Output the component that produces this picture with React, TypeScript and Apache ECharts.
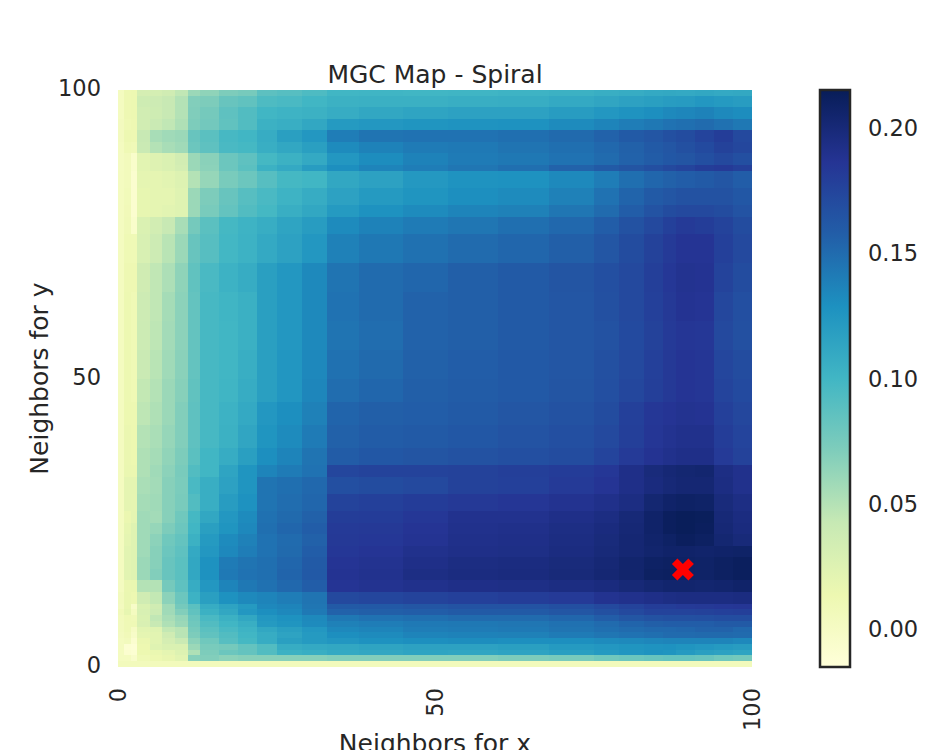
import React, { useEffect, useRef } from "react";
import * as echarts from "echarts";

const titleText = "MGC Map - Spiral";
const xName = "Neighbors for x";
const yName = "Neighbors for y";
const axisTicks = [0, 50, 100];
const colorbarTicks = [0, 0.05, 0.1, 0.15, 0.2];
const colorMin = -0.015;
const colorMax = 0.215;
const palette = ["#ffffd9", "#edf8b1", "#c7e9b4", "#7fcdbb", "#41b6c4", "#1d91c0", "#225ea8", "#253494", "#081d58"];
const bestScale = [89.1, 16.9];

// Cell bands of the map in "neighbors" units.
const xEdges = [0, 1, 2, 3, 5, 7, 9, 11, 13, 16, 19, 22, 25, 29, 33, 38, 45, 52, 60, 68, 75, 79, 83, 86, 88, 91, 94, 97, 100];
const yEdges = [100, 99, 97, 95, 93, 91, 89, 87, 86, 83, 80, 78, 75, 70, 65, 60, 55, 50, 46, 42, 38, 35, 33, 30, 27, 25, 23, 21, 19, 17, 15, 13, 11, 10, 9, 8, 7, 6, 5, 4, 3, 2, 1, 0];

// MGC statistic x 1000, top row first.
const mgcRows = [
  [3,12,13,32,33,36,45,60,65,72,75,87,90,94,100,101,100,101,102,104,106,108,110,111,110,112,110,111],
  [3,12,13,37,38,42,50,70,72,82,85,94,96,100,104,105,105,106,107,110,113,116,118,120,121,124,122,120],
  [3,12,13,35,37,42,50,71,76,86,92,100,102,104,108,112,114,116,116,120,124,127,130,133,135,137,133,131],
  [4,11,12,35,40,45,52,72,77,85,92,104,106,112,122,124,126,127,128,132,136,140,143,146,148,150,147,143],
  [4,13,12,42,55,58,60,82,88,97,100,108,118,124,140,145,146,146,148,151,155,160,163,167,170,175,180,172],
  [3,11,9,40,50,55,58,80,86,96,98,106,112,118,132,137,141,142,145,148,152,156,160,163,167,171,177,173],
  [2,6,-5,22,25,28,34,60,67,80,86,98,104,110,124,131,137,141,143,146,150,155,159,162,164,168,172,168],
  [2,6,-5,22,25,28,33,60,66,80,88,104,110,120,130,136,140,144,148,155,160,164,168,172,175,180,182,178],
  [3,6,-8,20,20,22,26,50,62,74,80,90,98,100,112,116,123,127,128,133,140,148,153,156,158,160,163,158],
  [3,7,-8,18,20,20,24,60,72,82,90,96,102,108,116,122,126,130,132,138,146,154,160,163,166,166,166,162],
  [3,8,-8,18,20,22,24,60,74,84,92,98,106,112,122,128,132,136,138,144,150,158,165,170,172,172,170,165],
  [3,9,-5,28,34,42,55,76,88,98,102,107,114,120,132,137,141,144,148,152,158,166,172,178,182,180,176,170],
  [3,11,10,30,38,48,60,82,90,99,103,110,116,124,138,143,147,150,153,157,163,170,177,182,186,186,178,172],
  [3,12,12,36,45,53,65,85,96,103,108,118,124,133,145,150,153,157,160,164,168,172,179,184,188,187,176,170],
  [3,13,10,38,45,56,66,84,97,101,105,118,124,133,146,150,155,157,160,163,167,172,178,183,187,186,173,168],
  [3,13,10,39,46,57,66,84,97,100,105,118,124,133,145,149,155,157,160,163,166,171,177,182,185,184,172,167],
  [3,13,10,40,48,58,67,84,97,100,106,118,125,134,147,151,156,158,161,163,167,172,178,183,186,185,174,170],
  [3,13,11,44,50,60,68,85,97,101,108,118,125,135,149,153,157,159,161,164,168,173,179,183,186,185,175,171],
  [3,14,13,46,52,60,70,86,97,103,110,124,130,138,154,157,158,160,163,166,170,178,184,186,188,187,178,173],
  [3,15,14,50,54,62,70,86,97,104,113,126,132,141,156,159,160,162,165,168,172,179,185,188,190,190,180,175],
  [3,15,14,52,56,64,72,88,100,108,118,130,136,145,159,162,164,166,168,170,175,182,187,190,192,192,182,177],
  [3,16,15,52,58,66,74,92,100,114,126,136,141,146,174,176,176,177,179,181,184,192,198,201,203,204,194,190],
  [3,20,20,54,57,68,73,96,106,116,126,145,148,152,168,170,172,177,178,182,186,192,197,200,202,202,195,190],
  [3,20,19,56,58,68,74,92,106,120,128,145,149,153,176,178,181,183,185,188,191,195,203,207,209,208,198,194],
  [3,15,20,58,57,68,78,98,112,124,132,147,151,156,180,181,184,189,189,192,195,200,207,212,214,213,200,196],
  [3,18,24,58,62,72,80,100,118,126,134,148,153,158,182,183,186,190,191,194,197,201,207,212,214,212,201,197],
  [3,20,24,58,66,78,84,104,122,132,138,146,150,156,183,184,187,191,192,195,198,202,206,209,212,210,203,199],
  [3,22,24,58,68,80,86,110,124,134,140,146,151,158,184,186,190,192,193,196,199,202,205,207,207,206,207,208],
  [3,22,24,60,68,82,88,112,128,141,145,148,153,160,186,188,192,195,196,198,201,205,209,210,209,208,210,212],
  [3,22,24,60,70,82,88,112,128,142,146,148,154,161,187,189,194,196,197,199,202,205,210,211,209,208,210,212],
  [3,15,16,50,50,76,86,108,124,136,143,147,152,158,186,188,190,192,193,195,197,200,203,205,205,204,205,207],
  [5,16,13,36,44,66,80,103,118,128,133,136,140,145,172,174,176,178,180,182,188,190,192,194,195,195,195,196],
  [4,16,-3,28,36,58,76,88,108,115,122,134,136,144,160,161,163,165,165,168,172,176,180,180,182,183,184,185],
  [8,18,3,30,38,58,70,85,104,112,124,130,134,142,155,157,158,160,160,163,167,172,176,176,176,177,178,179],
  [6,11,9,28,45,55,62,80,96,104,112,124,128,133,143,146,148,150,150,153,158,163,166,167,167,168,169,169],
  [5,10,10,29,42,52,60,78,92,100,106,122,126,132,138,140,142,143,144,147,150,154,157,158,158,158,160,160],
  [5,10,0,22,24,44,48,75,88,96,102,112,118,124,134,136,140,141,142,145,148,150,152,152,153,155,155,152],
  [4,8,-3,20,22,36,48,72,85,92,100,108,115,122,130,132,136,137,138,141,144,146,148,150,150,151,151,150],
  [3,5,-8,15,22,32,40,66,78,90,98,108,118,122,125,128,130,131,130,130,132,133,135,136,136,136,136,134],
  [3,-10,-12,14,24,28,28,60,74,76,84,92,108,110,112,114,116,116,118,122,124,126,127,128,126,124,122,120],
  [3,-8,-10,14,16,20,26,52,72,80,84,92,104,106,110,112,114,113,115,118,122,125,127,126,122,118,116,114],
  [3,3,-4,10,13,17,22,68,70,66,68,68,68,68,70,70,70,70,72,74,78,80,82,84,84,82,78,76],
  [6,6,6,6,6,6,6,6,6,6,6,6,6,6,6,6,6,6,6,6,6,6,6,6,6,6,6,6],
];

const ink = "#262626";
const font = "DejaVu Sans";

function hexToRgb(hex: string) {
  return [1, 3, 5].map((i) => parseInt(hex.slice(i, i + 2), 16));
}

function colorOf(v: number) {
  const t = Math.max(0, Math.min(1, (v - colorMin) / (colorMax - colorMin))) * (palette.length - 1);
  const i = Math.min(palette.length - 2, Math.floor(t));
  const a = hexToRgb(palette[i]);
  const b = hexToRgb(palette[i + 1]);
  const f = t - i;
  return `rgb(${a.map((c, k) => Math.round(c + (b[k] - c) * f)).join(",")})`;
}

const cells: number[][] = [];
mgcRows.forEach((row, r) => {
  row.forEach((v, c) => {
    cells.push([xEdges[c], xEdges[c + 1], yEdges[r + 1], yEdges[r], v / 1000]);
  });
});

export default function App() {
  const ref = useRef<HTMLDivElement>(null);
  useEffect(() => {
    const chart = echarts.init(ref.current!, null, { renderer: "svg" });
    chart.setOption({
      animation: false,
      backgroundColor: "#ffffff",
      title: {
        text: titleText,
        left: 430,
        top: 57,
        textAlign: "center",
        textStyle: { color: ink, fontFamily: font, fontSize: 25, fontWeight: "normal" },
      },
      grid: [
        { left: 118, top: 90, width: 634, height: 577, show: false, outerBoundsMode: "none" },
        { left: 820, top: 90, width: 30, height: 577, show: false, outerBoundsMode: "none" },
      ],
      xAxis: [
        {
          type: "value",
          gridIndex: 0,
          min: 0,
          max: 100,
          interval: 50,
          name: xName,
          nameLocation: "middle",
          nameGap: 64,
          nameMoveOverlap: false,
          nameTextStyle: { color: ink, fontFamily: font, fontSize: 25 },
          axisLine: { show: false },
          axisTick: { show: false },
          splitLine: { show: false },
          axisLabel: { rotate: 90, margin: 21, color: ink, fontFamily: font, fontSize: 22.5, customValues: axisTicks },
        },
        { type: "value", gridIndex: 1, min: 0, max: 1, show: false },
      ],
      yAxis: [
        {
          type: "value",
          gridIndex: 0,
          min: 0,
          max: 100,
          interval: 50,
          name: yName,
          nameLocation: "middle",
          nameGap: 66,
          nameMoveOverlap: false,
          nameTextStyle: { color: ink, fontFamily: font, fontSize: 25 },
          axisLine: { show: false },
          axisTick: { show: false },
          splitLine: { show: false },
          axisLabel: {
            margin: 17,
            color: ink,
            fontFamily: font,
            fontSize: 22.5,
            customValues: axisTicks,
            formatter: (v: number) => `{a|${v}}`,
            rich: { a: { color: ink, fontFamily: font, fontSize: 22.5, padding: [0, 0, 4, 0] } },
          },
        },
        {
          type: "value",
          gridIndex: 1,
          position: "right",
          min: colorMin,
          max: colorMax,
          axisLine: { show: false },
          splitLine: { show: false },
          axisTick: { show: true, length: 13, inside: false, lineStyle: { color: ink, width: 2 }, customValues: colorbarTicks },
          axisLabel: {
            margin: 18,
            color: ink,
            fontFamily: font,
            fontSize: 22.5,
            customValues: colorbarTicks,
            formatter: (v: number) => v.toFixed(2),
          },
        },
      ],
      series: [
        {
          type: "custom",
          xAxisIndex: 0,
          yAxisIndex: 0,
          data: cells,
          encode: { x: [0, 1], y: [2, 3] },
          silent: true,
          renderItem: (_: unknown, api: any) => {
            const a = api.coord([api.value(0), api.value(3)]);
            const b = api.coord([api.value(1), api.value(2)]);
            const x = Math.round(a[0]);
            const y = Math.round(a[1]);
            return {
              type: "rect",
              shape: { x, y, width: Math.round(b[0]) - x, height: Math.round(b[1]) - y },
              style: { fill: colorOf(api.value(4)) },
            };
          },
        },
        {
          type: "scatter",
          xAxisIndex: 0,
          yAxisIndex: 0,
          data: [bestScale],
          symbol: "path://M-1 -2L0 -1L1 -2L2 -1L1 0L2 1L1 2L0 1L-1 2L-2 1L-1 0L-2 -1Z",
          symbolSize: 22,
          itemStyle: { color: "#ff0000", opacity: 1 },
          z: 5,
          silent: true,
        },
        {
          type: "custom",
          xAxisIndex: 1,
          yAxisIndex: 1,
          data: [[0, colorMin, 1, colorMax]],
          encode: { x: [0, 2], y: [1, 3] },
          silent: true,
          renderItem: (_: unknown, api: any) => {
            const a = api.coord([api.value(0), api.value(3)]);
            const b = api.coord([api.value(2), api.value(1)]);
            return {
              type: "rect",
              shape: { x: a[0], y: a[1], width: b[0] - a[0], height: b[1] - a[1] },
              style: {
                fill: {
                  type: "linear",
                  x: 0,
                  y: 1,
                  x2: 0,
                  y2: 0,
                  colorStops: palette.map((color, i) => ({ offset: i / (palette.length - 1), color })),
                },
                stroke: ink,
                lineWidth: 2.5,
              },
            };
          },
        },
      ],
    });
    return () => chart.dispose();
  }, []);
  return <div ref={ref} style={{ position: "absolute", left: 0, top: 0, width: 944, height: 750, overflow: "hidden" }} />;
}
